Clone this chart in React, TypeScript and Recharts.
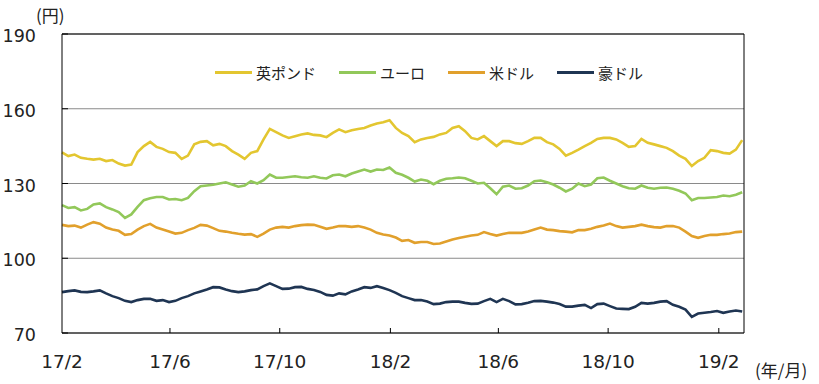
import React from 'react';
import { LineChart, Line, XAxis, YAxis, CartesianGrid, ReferenceLine } from 'recharts';

const tickDays = [0, 120, 242, 365, 485, 607, 730];
const tickLabels = ['17/2', '17/6', '17/10', '18/2', '18/6', '18/10', '19/2'];
const yTicks = [70, 100, 130, 160, 190];
const seriesKeys = ['gbp', 'eur', 'usd', 'aud'];
const seriesNames = ['英ポンド', 'ユーロ', '米ドル', '豪ドル'];
const seriesColors = ['#E3C630', '#92C85A', '#E1A02C', '#1F3553'];

const gbp = [142.5, 141, 141.6, 140.3, 139.9, 139.6, 139.9, 139, 139.4, 138, 137.2, 137.6, 142.6, 145, 146.7, 144.7, 143.9, 142.6, 142.3, 139.9, 141.2, 145.7, 146.7, 147, 145.3, 145.9, 145, 143, 141.6, 139.9, 142.3, 143, 147.7, 151.9, 150.6, 149.3, 148.3,
  149, 149.7, 150.1, 149.5, 149.3, 148.6, 150.3, 151.7, 150.6, 151.4, 151.9, 152.3, 153.3, 154.1, 154.6, 155.4, 152.3, 150.3, 149, 146.6, 147.7, 148.3, 148.7, 149.7, 150.3, 152.3, 153, 151, 148.3, 147.7, 149, 147, 145, 147, 147, 146.2,
  145.9, 147, 148.3, 148.3, 146.6, 145.7, 143.9, 141.2, 142.3, 143.6, 145, 146.3, 147.9, 148.3, 148.3, 147.7, 146.3, 144.7, 145, 147.9, 146.3, 145.7, 145, 144.3, 143, 141.2, 139.9, 137, 139, 140.3, 143.4, 143, 142.3, 142, 143.6, 147.4];
const eur = [121.3, 120.2, 120.5, 119.2, 119.8, 121.6, 122, 120.5, 119.6, 118.5, 116.2, 117.6, 120.6, 123.3, 124.1, 124.6, 124.6, 123.6, 123.8, 123.3, 124.2, 126.9, 128.9, 129.2, 129.5, 130, 130.5, 129.6, 128.7, 129.2, 130.9, 130, 131.3, 133.6, 132.3, 132.3, 132.6,
  132.9, 132.5, 132.3, 132.9, 132.3, 132, 133.3, 133.6, 132.9, 134, 134.8, 135.6, 134.8, 135.6, 135.4, 136.4, 134.3, 133.5, 132.3, 130.8, 131.6, 131.1, 129.7, 131.1, 131.9, 132.1, 132.4, 132.1, 131.1, 130, 130.3, 128.1, 125.7, 128.7, 129.2, 127.9,
  128.1, 129.2, 130.9, 131.2, 130.5, 129.6, 128.3, 126.8, 127.9, 130, 128.9, 129.6, 132.1, 132.4, 131.1, 130, 128.9, 128.1, 127.9, 129.2, 128.3, 127.9, 128.3, 128.4, 127.9, 127.1, 126, 123.3, 124.2, 124.2, 124.4, 124.6, 125.2, 124.9, 125.5, 126.5];
const usd = [113.4, 112.9, 113.1, 112.3, 113.5, 114.5, 113.9, 112.3, 111.5, 111, 109.4, 109.7, 111.5, 112.9, 113.8, 112.3, 111.5, 110.7, 109.9, 110.2, 111.3, 112.2, 113.4, 113.1, 112.1, 111, 110.7, 110.2, 109.8, 109.5, 109.7, 108.6, 109.9, 111.5, 112.3, 112.6, 112.3,
  112.9, 113.3, 113.5, 113.4, 112.6, 111.8, 112.3, 112.9, 112.9, 112.6, 112.9, 112.3, 111.5, 110.2, 109.5, 109.1, 108.3, 107, 107.3, 106.2, 106.5, 106.5, 105.7, 105.9, 106.7, 107.5, 108.1, 108.6, 109.1, 109.4, 110.5, 109.7, 109.1, 109.7, 110.2, 110.2,
  110.2, 110.7, 111.5, 112.3, 111.5, 111.3, 110.9, 110.7, 110.4, 111.3, 111.3, 111.8, 112.6, 113.1, 113.9, 112.9, 112.3, 112.6, 112.9, 113.5, 112.9, 112.5, 112.3, 112.9, 112.9, 112.3, 110.7, 108.9, 108.2, 108.9, 109.4, 109.4, 109.7, 109.9, 110.5, 110.7];
const aud = [86.4, 86.8, 87.1, 86.5, 86.4, 86.7, 87.1, 85.9, 84.8, 84, 82.9, 82.4, 83.2, 83.7, 83.7, 82.9, 83.2, 82.4, 82.9, 84, 84.8, 85.9, 86.7, 87.5, 88.4, 88.3, 87.5, 86.8, 86.4, 86.7, 87.2, 87.5, 88.8, 89.9, 88.8, 87.7, 87.8,
  88.4, 88.5, 87.7, 87.3, 86.5, 85.3, 85, 85.9, 85.5, 86.7, 87.5, 88.4, 88.1, 88.8, 88.1, 87.2, 86.1, 84.8, 84, 83.2, 83.2, 82.6, 81.6, 81.8, 82.4, 82.6, 82.6, 82.1, 81.7, 81.8, 82.8, 83.7, 82.4, 83.7, 82.8, 81.5,
  81.6, 82.1, 82.8, 82.9, 82.6, 82.2, 81.6, 80.6, 80.6, 81, 81.3, 80, 81.6, 81.8, 80.8, 79.8, 79.7, 79.6, 80.5, 82.1, 81.8, 82.1, 82.6, 82.8, 81.3, 80.5, 79.4, 76.5, 77.8, 78.1, 78.4, 78.8, 78.1, 78.6, 79, 78.6];

// one point per week, counted in days from 2017-02-01
const weekDays = gbp.map((_, i) => i * 7);
const lastDay = 758;

const data = weekDays.map((d, i) => ({ day: d, gbp: gbp[i], eur: eur[i], usd: usd[i], aud: aud[i] }));

const numFont = '"DejaVu Sans", Verdana, sans-serif';
const jpFont = '"Noto Sans CJK JP", sans-serif';

const XTick = (props: any) => {
  const { x, y, payload } = props;
  const idx = tickDays.indexOf(payload.value);
  return (
    <g>
      {idx > 0 && <line x1={x} x2={x} y1={y} y2={y - 5} stroke="#000" strokeWidth={1} />}
      <text x={x} y={y + 35} textAnchor="middle" fontSize={18.5} fontFamily={numFont} fill="#222">
        {tickLabels[idx]}
      </text>
    </g>
  );
};

const YTick = (props: any) => {
  const { x, y, payload } = props;
  return (
    <g>
      <line x1={x} x2={x + 6} y1={y} y2={y} stroke="#000" strokeWidth={1} />
      <text x={x - 26} y={y + 8} textAnchor="end" fontSize={17.5} fontFamily={numFont} fill="#222">
        {payload.value}
      </text>
    </g>
  );
};

export default function App() {
  return (
    <div style={{ position: 'absolute', left: 0, top: 0, width: 819, height: 384, background: '#fff' }}>
      <LineChart width={819} height={384} data={data} margin={{ top: 34, right: 75, bottom: 21, left: 0 }}>
        <CartesianGrid vertical={false} stroke="#8a8a8a" strokeWidth={1} />
        <XAxis
          dataKey="day"
          type="number"
          domain={[0, lastDay]}
          ticks={tickDays}
          interval={0}
          height={30}
          tickSize={0}
          tickMargin={0}
          tickLine={false}
          axisLine={{ stroke: '#000', strokeWidth: 1 }}
          tick={<XTick />}
        />
        <YAxis
          type="number"
          domain={[70, 190]}
          ticks={yTicks}
          interval={0}
          width={62}
          tickSize={0}
          tickMargin={0}
          tickLine={false}
          axisLine={{ stroke: '#000', strokeWidth: 1 }}
          tick={<YTick />}
        />
        <ReferenceLine y={190} stroke="#000" strokeWidth={1} />
        <ReferenceLine x={lastDay} stroke="#000" strokeWidth={1} />
        {seriesKeys.map((k, i) => (
          <Line
            key={k}
            dataKey={k}
            name={seriesNames[i]}
            stroke={seriesColors[i]}
            strokeWidth={2.6}
            dot={false}
            type="linear"
            isAnimationActive={false}
          />
        ))}
      </LineChart>
      <div style={{ position: 'absolute', left: 215, top: 62, display: 'flex', alignItems: 'center', height: 20, fontFamily: jpFont, fontSize: 15, color: '#222', whiteSpace: 'nowrap' }}>
        {seriesNames.map((name, i) => (
          <div key={name} style={{ display: 'flex', alignItems: 'center', marginRight: 23 }}>
            <div style={{ width: 37, height: 3, background: seriesColors[i], marginRight: 4 }} />
            <span>{name}</span>
          </div>
        ))}
      </div>
      <div style={{ position: 'absolute', left: 36, top: 5, fontFamily: jpFont, fontSize: 17, lineHeight: '20px', color: '#222' }}>(円)</div>
      <div style={{ position: 'absolute', left: 755, top: 360, fontFamily: jpFont, fontSize: 17, lineHeight: '20px', color: '#222', whiteSpace: 'nowrap' }}>(年/月)</div>
    </div>
  );
}
